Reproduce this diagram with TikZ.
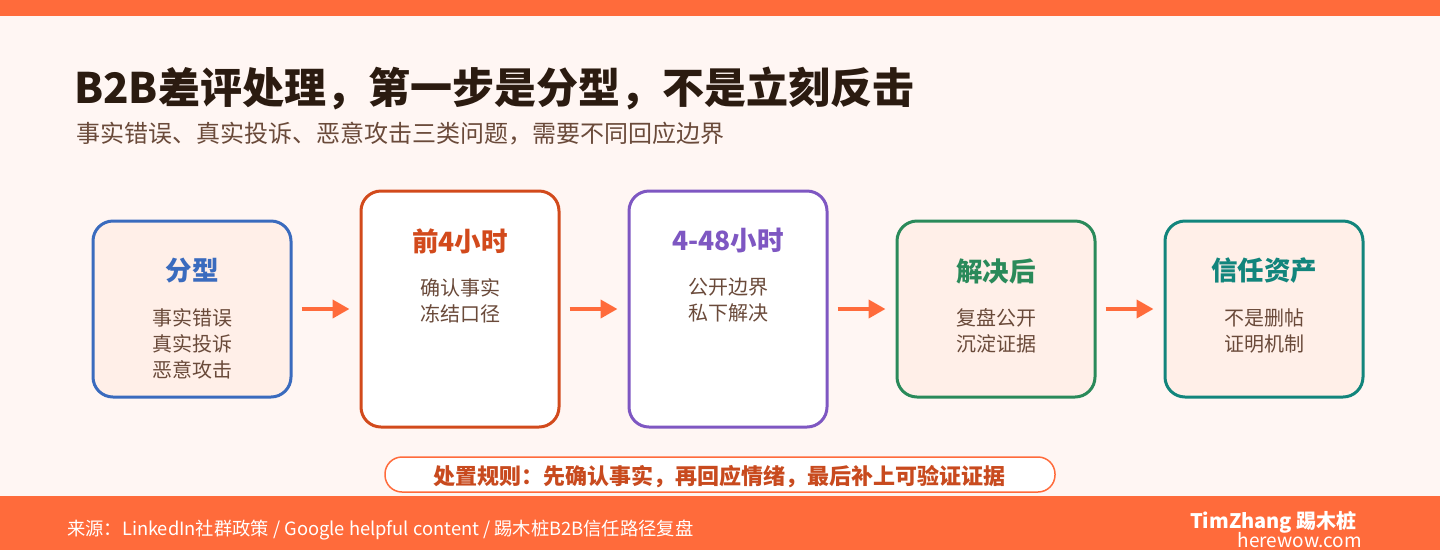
\documentclass[tikz,border=0pt]{standalone}
\usepackage{fontspec}
\setmainfont{Noto Sans CJK SC}
\usetikzlibrary{arrows.meta}
\definecolor{orange}{HTML}{FF6B3B}
\definecolor{bgc}{HTML}{FFF6F3}
\definecolor{peach}{HTML}{FFEFE8}
\definecolor{cblue}{HTML}{3A6BBE}
\definecolor{cred}{HTML}{D24A1C}
\definecolor{cpurple}{HTML}{7E57C2}
\definecolor{cgreen}{HTML}{2A8A5A}
\definecolor{cteal}{HTML}{12857C}
\definecolor{brownt}{HTML}{6A4A3A}
\definecolor{darkt}{HTML}{2B1B10}
\definecolor{rulet}{HTML}{C84A1E}
\tikzset{
  stagebox/.style={draw, line width=3pt, rounded corners=20pt, minimum width=198pt, inner sep=0pt},
  shortbox/.style={stagebox, minimum height=176pt, fill=peach},
  tallbox/.style={stagebox, minimum height=236pt, fill=white},
  stagetitle/.style={font=\fontsize{26.5}{30}\selectfont\bfseries, inner sep=0pt},
  body/.style={font=\fontsize{20}{26}\selectfont, text=brownt, align=center, inner sep=0pt},
  arr/.style={draw=orange, line width=4pt, -{Triangle[length=17pt,width=18pt]}},
}
\begin{document}
\begin{tikzpicture}[x=1pt,y=-1pt]
\useasboundingbox (0,0) rectangle (1440,550);
\fill[bgc] (0,0) rectangle (1440,550);
\fill[orange] (0,0) rectangle (1440,16);
\fill[orange] (0,496) rectangle (1440,550);

\node[anchor=west, inner sep=0pt, text=darkt, font=\fontsize{42}{48}\selectfont\bfseries] (title) at (74,88) {B2B差评处理，第一步是分型，不是立刻反击};
\node[anchor=west, inner sep=0pt, text=brownt, font=\fontsize{24}{28}\selectfont] (sub) at (76,134) {事实错误、真实投诉、恶意攻击三类问题，需要不同回应边界};

\node[shortbox, draw=cblue] (b1) at (192,309) {};
\node[tallbox, draw=cred] (b2) at (460,309) {};
\node[tallbox, draw=cpurple] (b3) at (728,309) {};
\node[shortbox, draw=cgreen] (b4) at (996,309) {};
\node[shortbox, draw=cteal] (b5) at (1264,309) {};

\node[stagetitle, text=cblue] (t1) at (192,271) {分型};
\node[body] (d1) at (192,344) {事实错误\\真实投诉\\恶意攻击};
\node[stagetitle, text=cred] (t2) at (460,241) {前4小时};
\node[body] (d2) at (460,300.5) {确认事实\\冻结口径};
\node[stagetitle, text=cpurple] (t3) at (728,241) {4-48小时};
\node[body] (d3) at (728,300.5) {公开边界\\私下解决};
\node[stagetitle, text=cgreen] (t4) at (996,271) {解决后};
\node[body] (d4) at (996,331) {复盘公开\\沉淀证据};
\node[stagetitle, text=cteal] (t5) at (1264,271) {信任资产};
\node[body] (d5) at (1264,331) {不是删帖\\证明机制};

\draw[arr] ([xshift=9pt]b1.east) -- ([xshift=-10pt]b2.west);
\draw[arr] ([xshift=9pt]b2.east) -- ([xshift=-10pt]b3.west);
\draw[arr] ([xshift=9pt]b3.east) -- ([xshift=-10pt]b4.west);
\draw[arr] ([xshift=9pt]b4.east) -- ([xshift=-10pt]b5.west);

\node[draw=orange, line width=1.5pt, fill=white, rounded corners=17pt, minimum width=670pt, minimum height=35pt, inner sep=0pt] (rule) at (720,474.5) {};
\node[inner sep=0pt, text=rulet, font=\fontsize{22}{26}\selectfont\bfseries] (rulet) at (719,477) {处置规则：先确认事实，再回应情绪，最后补上可验证证据};

\node[anchor=west, inner sep=0pt, text=white, font=\fontsize{18.3}{22}\selectfont] (src) at (67,530) {来源：LinkedIn社群政策 / Google helpful content / 踢木桩B2B信任路径复盘};
\node[anchor=east, inner sep=0pt, text=white, font=\fontsize{20}{22}\selectfont\bfseries] (brand) at (1357,522) {TimZhang 踢木桩};
\node[anchor=east, inner sep=0pt, text=white, font=\fontsize{19}{22}\selectfont] (site) at (1362,540) {herewow.com};
\end{tikzpicture}
\end{document}
